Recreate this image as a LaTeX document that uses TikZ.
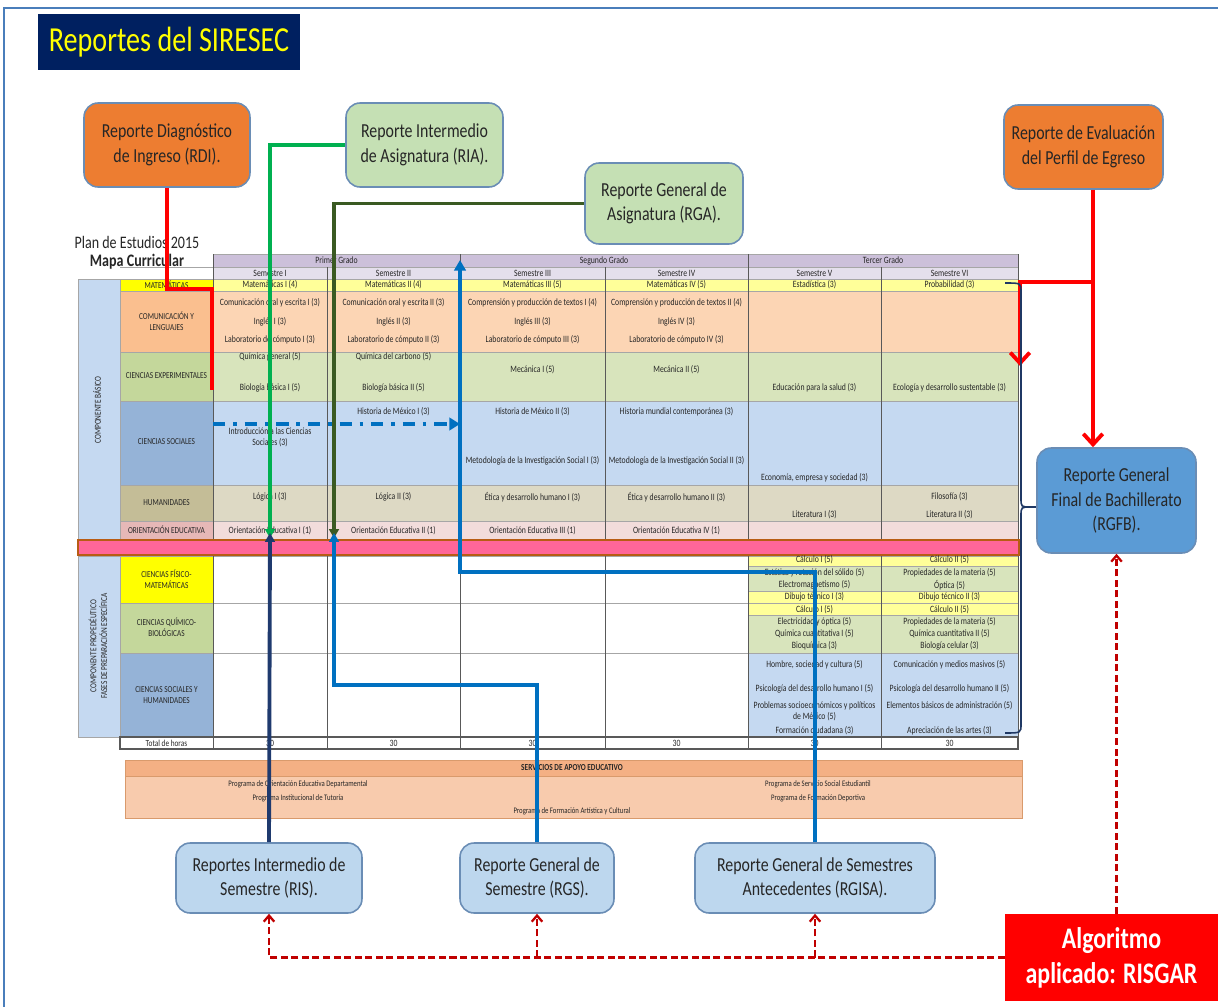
\documentclass[tikz,border=0pt]{standalone}
\usepackage{fontspec}
\setmainfont{Carlito}[FakeStretch=0.8]
\usetikzlibrary{arrows.meta}

\definecolor{navyttl}{HTML}{002060}
\definecolor{ttlyellow}{HTML}{FFFF00}
\definecolor{framecol}{HTML}{4A7EBB}
\definecolor{orangebox}{HTML}{ED7D31}
\definecolor{greenbox}{HTML}{C5E0B4}
\definecolor{lightblue}{HTML}{BDD7EE}
\definecolor{midblue}{HTML}{5B9BD5}
\definecolor{boxline}{HTML}{6A8DB5}
\definecolor{boxtext}{HTML}{262626}
\definecolor{risgarred}{HTML}{FF0000}
\definecolor{gradohd}{HTML}{CCC0DA}
\definecolor{semhd}{HTML}{E4DFEC}
\definecolor{matcat}{HTML}{FFFF00}
\definecolor{matrow}{HTML}{FFFF99}
\definecolor{comcat}{HTML}{FABF8F}
\definecolor{comrow}{HTML}{FCD5B4}
\definecolor{expcat}{HTML}{C4D79B}
\definecolor{exprow}{HTML}{D8E4BC}
\definecolor{soccat}{HTML}{95B3D7}
\definecolor{socrow}{HTML}{C5D9F1}
\definecolor{humcat}{HTML}{C4BD97}
\definecolor{humrow}{HTML}{DDD9C4}
\definecolor{oricat}{HTML}{E6B8B7}
\definecolor{orirow}{HTML}{F2DCDB}
\definecolor{bandcol}{HTML}{C5D9F1}
\definecolor{pinkbar}{HTML}{FF6699}
\definecolor{pinkedge}{HTML}{B85C14}
\definecolor{servhd}{HTML}{F4B084}
\definecolor{servbody}{HTML}{F8CBAD}
\definecolor{servedge}{HTML}{D99A6C}
\definecolor{gridlt}{HTML}{A6A6A6}
\definecolor{griddk}{HTML}{595959}
\definecolor{celltext}{HTML}{262626}
\definecolor{redl}{HTML}{FF0000}
\definecolor{greenl}{HTML}{00B050}
\definecolor{dgreenl}{HTML}{3A5A22}
\definecolor{bluel}{HTML}{0070C0}
\definecolor{navyl}{HTML}{1F3A6E}
\definecolor{dashred}{HTML}{C00000}
\definecolor{bracecol}{HTML}{1F3864}

\tikzset{
  rep/.style={draw=boxline, line width=0.9pt, rounded corners=8pt, align=center,
    text=boxtext, font=\fontsize{11.3}{14}\selectfont, inner sep=2pt},
  celltxt/.style={font=\fontsize{5.5}{6.2}\selectfont, text=celltext, inner sep=0pt, align=center},
  cattxt/.style={font=\fontsize{5.2}{6.2}\selectfont, text=celltext, inner sep=0pt, align=center},
  servtxt/.style={font=\fontsize{4.8}{6}\selectfont, text=celltext, inner sep=0pt},
  conn/.style={line width=2.2pt},
  tri/.style={-{Triangle[length=5pt,width=5.5pt]}},
  barb/.style={-{Straight Barb[length=6pt,width=11pt]}},
  dasharrow/.style={dashred, line width=1.3pt, dash pattern=on 4pt off 2pt,
    -{Straight Barb[length=3.5pt,width=6pt]}}
}

\begin{document}
\begin{tikzpicture}[x=0.02cm, y=-0.02cm]
\useasboundingbox (0,0) rectangle (1218,1007);

% frame and title
\draw[framecol, line width=0.8pt] (4,1007) -- (4,8) -- (1218,8);
\node[fill=navyttl, text=ttlyellow, minimum width=5.24cm, minimum height=1.12cm,
  font=\fontsize{20}{24}\selectfont] (title) at (169,42) {Reportes del SIRESEC};

\node[font=\fontsize{10}{12}\selectfont, text=boxtext] (plan) at (137,242) {Plan de Estudios 2015};
\node[font=\bfseries\fontsize{10}{12}\selectfont, text=boxtext] (mapa) at (137,262) {Mapa Curricular};

% table: headers
\fill[gradohd] (213,254) rectangle (1018,267);
\fill[semhd] (213,267) rectangle (1018,279);
% table: rows
\fill[matrow] (213,279) rectangle (1018,291);
\fill[comrow] (213,291) rectangle (1018,352);
\fill[exprow] (213,352) rectangle (1018,401);
\fill[socrow] (213,401) rectangle (1018,485);
\fill[humrow] (213,485) rectangle (1018,521);
\fill[orirow] (213,521) rectangle (1018,539);
% table: categories
\fill[matcat] (120,279) rectangle (213,291);
\fill[comcat] (120,291) rectangle (213,352);
\fill[expcat] (120,352) rectangle (213,401);
\fill[soccat] (120,401) rectangle (213,485);
\fill[humcat] (120,485) rectangle (213,521);
\fill[oricat] (120,521) rectangle (213,539);
\fill[matcat] (120,556) rectangle (213,603);
\fill[expcat] (120,603) rectangle (213,653);
\fill[soccat] (120,653) rectangle (213,737);
\fill[bandcol] (78,279) rectangle (120,539);
\fill[bandcol] (78,556) rectangle (120,737);
% propedeutic, semesters V and VI
\fill[matrow] (748,556) rectangle (1018,566);
\fill[exprow] (748,566) rectangle (1018,591);
\fill[matrow] (748,591) rectangle (1018,615);
\fill[exprow] (748,615) rectangle (1018,653);
\fill[socrow] (748,653) rectangle (1018,737);

% grid
\foreach \gy in {267,279,291,352,401,485,521,556,603,653,737}
  \draw[gridlt, line width=0.4pt] (120,\gy) -- (1018,\gy);
\foreach \gy in {566,591,615}
  \draw[gridlt, line width=0.3pt] (748,\gy) -- (1018,\gy);
\draw[gridlt, line width=0.4pt] (213,254) -- (1018,254);
\foreach \gx in {213,460,748,1018}
  \draw[griddk, line width=0.4pt] (\gx,254) -- (\gx,749);
\foreach \gx in {327,605,881}
  \draw[griddk, line width=0.4pt] (\gx,267) -- (\gx,749);
\draw[griddk, line width=0.4pt] (120,279) -- (120,749);
\draw[gridlt, line width=0.4pt] (78,279) rectangle (120,539) (78,556) rectangle (120,737);
\draw[griddk, line width=0.8pt] (120,737) rectangle (1018,749);
\draw[pinkedge, fill=pinkbar, line width=1.6pt] (78,540) rectangle (1019,555);

% header texts
\node[celltxt] (g1) at (336.5,260.5) {Primer Grado};
\node[celltxt] (g2) at (604,260.5) {Segundo Grado};
\node[celltxt] (g3) at (883,260.5) {Tercer Grado};
\foreach \sx/\st [count=\k] in {270/I,393.5/II,532.5/III,676.5/IV,814.5/V,949.5/VI}
  \node[celltxt] (sem-\k) at (\sx,273) {Semestre \st};

% categories and bands
\foreach \cy/\ct [count=\k] in {285/MATEMÁTICAS, 321/{COMUNICACIÓN Y\\LENGUAJES},
  376/CIENCIAS EXPERIMENTALES, 442/CIENCIAS SOCIALES, 503/HUMANIDADES,
  530/ORIENTACIÓN EDUCATIVA, 579/{CIENCIAS FÍSICO-\\MATEMÁTICAS},
  627/{CIENCIAS QUÍMICO-\\BIOLÓGICAS}, 695/{CIENCIAS SOCIALES Y\\HUMANIDADES},
  743/Total de horas}
  \node[cattxt] (cat-\k) at (166.5,\cy) {\ct};
\node[cattxt, rotate=90] (basico) at (97,410) {COMPONENTE BÁSICO};
\node[cattxt, rotate=90] (proped) at (98,646) {COMPONENTE PROPEDÉUTICO\\FASES DE PREPARACIÓN ESPECÍFICA};

% semester I
\foreach \cy/\ct [count=\k] in {285/Matemáticas I (4), 303/Comunicación oral y escrita I (3),
  322/Inglés I (3), 340/Laboratorio de cómputo I (3), 357/Química general (5),
  388/Biología básica I (5), 437/{Introducción a las Ciencias\\Sociales (3)},
  497/Lógica I (3), 531/Orientación Educativa I (1), 743/30}
  \node[celltxt] (s1-\k) at (270,\cy) {\ct};
% semester II
\foreach \cy/\ct [count=\k] in {285/Matemáticas II (4), 303/Comunicación oral y escrita II (3),
  322/Inglés II (3), 340/Laboratorio de cómputo II (3), 357/Química del carbono (5),
  388/Biología básica II (5), 412/Historia de México I (3),
  497/Lógica II (3), 531/Orientación Educativa II (1), 743/30}
  \node[celltxt] (s2-\k) at (393.5,\cy) {\ct};
% semester III
\foreach \cy/\ct [count=\k] in {285/Matemáticas III (5), 303/Comprensión y producción de textos I (4),
  322/Inglés III (3), 340/Laboratorio de cómputo III (3), 370/Mecánica I (5),
  412/Historia de México II (3), 461/Metodología de la Investigación Social I (3),
  497/Ética y desarrollo humano I (3), 531/Orientación Educativa III (1), 743/30}
  \node[celltxt] (s3-\k) at (532.5,\cy) {\ct};
% semester IV
\foreach \cy/\ct [count=\k] in {285/Matemáticas IV (5), 303/Comprensión y producción de textos II (4),
  322/Inglés IV (3), 340/Laboratorio de cómputo IV (3), 370/Mecánica II (5),
  412/Historia mundial contemporánea (3), 461/Metodología de la Investigación Social II (3),
  497/Ética y desarrollo humano II (3), 531/Orientación Educativa IV (1), 743/30}
  \node[celltxt] (s4-\k) at (676.5,\cy) {\ct};
% semester V
\foreach \cy/\ct [count=\k] in {285/Estadística (3), 388/Educación para la salud (3),
  478/{Economía, empresa y sociedad (3)}, 515/Literatura I (3), 560/Cálculo I (5),
  573/Estática y rotación del sólido (5), 585/Electromagnetismo (5), 597/Dibujo técnico I (3),
  610/Cálculo I (5), 622/Electricidad y óptica (5), 634/Química cuantitativa I (5),
  646/Bioquímica (3), 665/{Hombre, sociedad y cultura (5)},
  689/Psicología del desarrollo humano I (5),
  711/{Problemas socioeconómicos y políticos\\de México (5)}, 731/Formación ciudadana (3), 743/30}
  \node[celltxt] (s5-\k) at (814.5,\cy) {\ct};
% semester VI
\foreach \cy/\ct [count=\k] in {285/Probabilidad (3), 388/Ecología y desarrollo sustentable (3),
  497/Filosofía (3), 515/Literatura II (3), 560/Cálculo II (5),
  573/Propiedades de la materia (5), 585/Óptica (5), 597/Dibujo técnico II (3),
  610/Cálculo II (5), 622/Propiedades de la materia (5), 634/Química cuantitativa II (5),
  646/Biología celular (3), 665/Comunicación y medios masivos (5),
  689/Psicología del desarrollo humano II (5), 706/Elementos básicos de administración (5),
  731/Apreciación de las artes (3), 743/30}
  \node[celltxt] (s6-\k) at (949.5,\cy) {\ct};

% support services
\draw[servedge, fill=servbody, line width=0.5pt] (125,760) rectangle (1022,818);
\draw[servedge, fill=servhd, line width=0.5pt] (125,760) rectangle (1022,776);
\node[servtxt, font=\bfseries\fontsize{5.2}{6}\selectfont] (serv) at (572,768) {SERVICIOS DE APOYO EDUCATIVO};
\node[servtxt] (serv-1) at (298,784) {Programa de Orientación Educativa Departamental};
\node[servtxt] (serv-2) at (298,798) {Programa Institucional de Tutoría};
\node[servtxt] (serv-3) at (818,784) {Programa de Servicio Social Estudiantil};
\node[servtxt] (serv-4) at (818,798) {Programa de Formación Deportiva};
\node[servtxt] (serv-5) at (572,811) {Programa de Formación Artística y Cultural};

% report boxes
\node[rep, fill=orangebox, minimum width=3.32cm, minimum height=1.68cm] (RDI) at (167,145)
  {Reporte Diagnóstico\\de Ingreso (RDI).};
\node[rep, fill=greenbox, minimum width=3.14cm, minimum height=1.68cm] (RIA) at (424.5,145)
  {Reporte Intermedio\\de Asignatura (RIA).};
\node[rep, fill=greenbox, minimum width=3.16cm, minimum height=1.62cm] (RGA) at (664,203.5)
  {Reporte General de\\Asignatura (RGA).};
\node[rep, fill=orangebox, minimum width=3.18cm, minimum height=1.68cm] (PEG) at (1083.5,147)
  {Reporte de Evaluación\\del Perfil de Egreso};
\node[rep, fill=midblue, minimum width=3.18cm, minimum height=2.1cm] (RGFB) at (1116.5,500.5)
  {Reporte General\\Final de Bachillerato\\(RGFB).};
\node[rep, fill=lightblue, minimum width=3.72cm, minimum height=1.4cm] (RIS) at (269,878)
  {Reportes Intermedio de\\Semestre (RIS).};
\node[rep, fill=lightblue, minimum width=3.08cm, minimum height=1.4cm] (RGS) at (537,878)
  {Reporte General de\\Semestre (RGS).};
\node[rep, fill=lightblue, minimum width=4.8cm, minimum height=1.4cm] (RGISA) at (815,878)
  {Reporte General de Semestres\\Antecedentes (RGISA).};
\node[fill=risgarred, text=white, minimum width=4.26cm, minimum height=1.74cm, align=center,
  font=\bfseries\fontsize{17}{20}\selectfont] (RISGAR) at (1111.5,957.5)
  {Algoritmo\\aplicado: RISGAR};

% end points
\coordinate (rdiEnd) at (212,390);
\coordinate (riaEnd) at (270,538);
\coordinate (rgaEnd) at (334,538);
\coordinate (risEnd) at (270,533);
\coordinate (rgsEnd) at (334,533);
\coordinate (rgisaEnd) at (460,260);
\coordinate (dashStart) at (213,424);
\coordinate (dashEnd) at (460,424);
\coordinate (pegX) at (1093,0);
\coordinate (expEnd) at (1020,366);
\coordinate (braceTip) at (1031,507);

% connectors from the top reports
\draw[conn, redl] (RDI.south) -- ++(0,101) -| (rdiEnd);
\draw[conn, greenl, tri] (RIA.west) -| (riaEnd);
\draw[conn, dgreenl, tri] (RGA.west) -| (rgaEnd);
\draw[bluel, line width=2.8pt, dash pattern=on 7pt off 4.5pt on 2pt off 4.5pt,
  -{Triangle[length=6pt,width=7pt]}] (dashStart) -- (dashEnd);

% connectors from the bottom reports
\draw[conn, navyl, tri] (RIS.north) -- (risEnd);
\draw[conn, bluel, tri] (RGS.north) -- ++(0,-157) -| (rgsEnd);
\draw[conn, bluel, -{Triangle[length=6pt,width=6.5pt]}] (RGISA.north) -- ++(0,-270) -| (rgisaEnd);

% final profile
\draw[conn, redl, barb] (PEG.south -| pegX) -- (RGFB.north -| pegX);
\draw[conn, redl, barb] (pegX |- 0,282) -| (expEnd);

% brace of the whole plan
\draw[bracecol, line width=0.9pt] (1005,283) .. controls (1021,283) .. (1021,292)
  -- (1021,498) .. controls (1021,507) .. (braceTip) .. controls (1021,507) .. (1021,516)
  -- (1021,724) .. controls (1021,733) .. (1005,733);
\draw[bracecol, line width=0.9pt] (braceTip) -- (braceTip -| RGFB.west);

% algorithm
\draw[dasharrow] (RISGAR.west) -| (RIS.south);
\draw[dasharrow] (RGS.south |- RISGAR.west) -- (RGS.south);
\draw[dasharrow] (RGISA.south |- RISGAR.west) -- (RGISA.south);
\draw[dasharrow] (RGFB.south |- RISGAR.north) -- (RGFB.south);
\end{tikzpicture}
\end{document}
